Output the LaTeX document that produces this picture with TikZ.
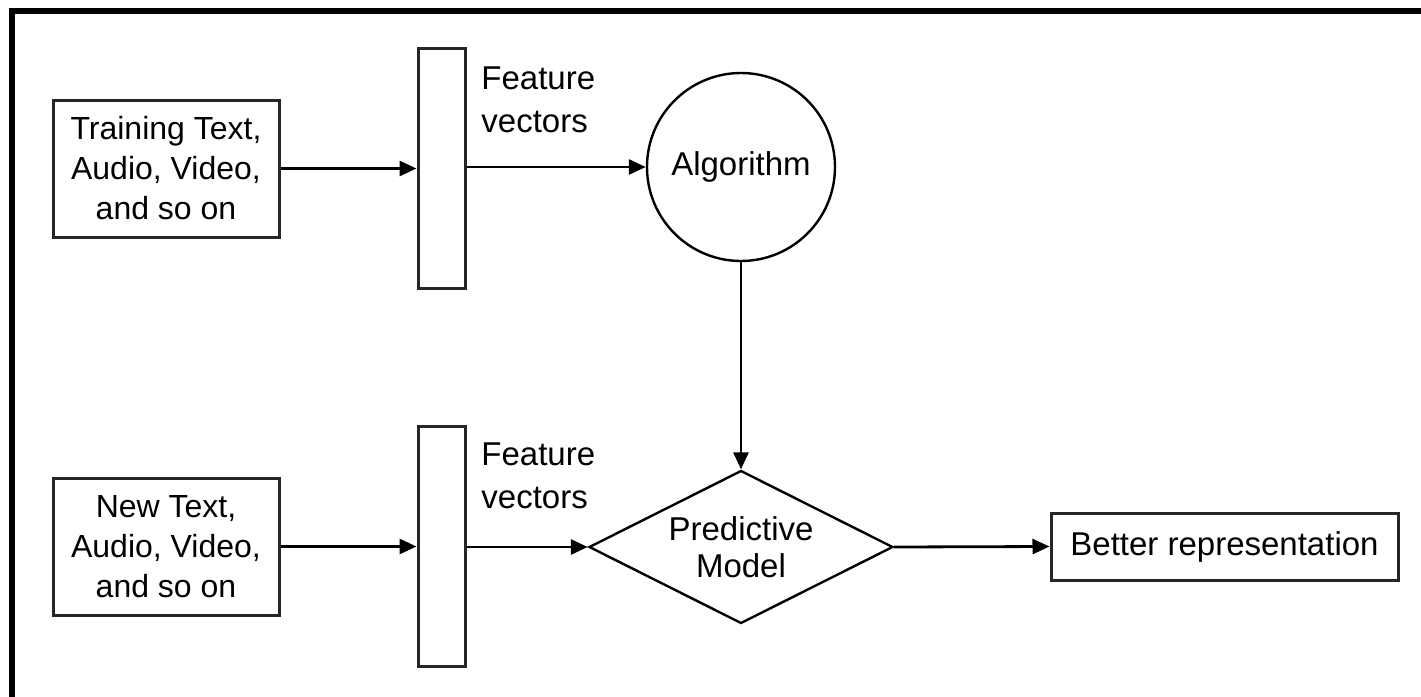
\documentclass[tikz,border=0pt]{standalone}
\usepackage{fontspec}
\setmainfont{Liberation Sans}
\usetikzlibrary{shapes.geometric,arrows.meta}

\tikzset{
  lbl/.style={font=\fontsize{16.5pt}{21.5pt}\selectfont, inner sep=0pt},
  srcbox/.style={draw=black!85, line width=1.5pt, rectangle, minimum width=113pt,
    minimum height=68.5pt, align=center, inner sep=0pt,
    font=\fontsize{16pt}{20pt}\selectfont},
  fvcol/.style={draw=black!85, line width=1.5pt, rectangle, minimum width=23.5pt,
    minimum height=120pt, inner sep=0pt},
  algo/.style={draw, line width=1.2pt, circle, minimum size=94pt, inner sep=0pt,
    font=\fontsize{16.5pt}{18.5pt}\selectfont},
  model/.style={draw, line width=1.2pt, diamond, aspect=2, minimum width=152pt,
    minimum height=76.5pt, inner sep=0pt, align=center,
    font=\fontsize{16.5pt}{18.5pt}\selectfont},
  outbox/.style={draw=black!85, line width=1.5pt, rectangle, minimum width=173.5pt,
    minimum height=33.5pt, inner sep=0pt, font=\fontsize{16.5pt}{18.5pt}\selectfont},
  flow/.style={line width=1.4pt, -{Triangle[length=8.5pt,width=7.5pt]}},
}

\begin{document}
\begin{tikzpicture}[x=0.5pt,y=-0.5pt]
  \useasboundingbox (0,0) rectangle (1421,697);

  % outer frame (top and left edges)
  \draw[line width=3pt] (12,697) -- (12,11) -- (1421,11);

  % training path
  \node[srcbox] (train) at (166,168.5) {Training Text,\\Audio, Video,\\and so on};
  \node[fvcol] (fv1) at (441.5,168) {};
  \node[lbl, anchor=west, align=left] (fvtxt1) at (481,99.5) {Feature\\vectors};
  \node[algo] (alg) at (741,167) {Algorithm};

  % prediction path
  \node[srcbox] (new) at (166,546.5) {New Text,\\Audio, Video,\\and so on};
  \node[fvcol] (fv2) at (441.5,546) {};
  \node[lbl, anchor=west, align=left] (fvtxt2) at (481,476) {Feature\\vectors};
  \node[model] (pm) at (741,547) {Predictive\\Model};
  \node[outbox] (out) at (1224.5,546.5) {Better representation};

  % connectors
  \draw[flow] (train.east) -- (train.east -| fv1.west);
  \draw[flow] (fv1.east |- alg.west) -- (alg.west);
  \draw[flow] (alg.south) -- (pm.north);
  \draw[flow] (new.east) -- (new.east -| fv2.west);
  \draw[flow] (fv2.east |- pm.west) -- (pm.west);
  \draw[flow] (pm.east) -- (out.west);
\end{tikzpicture}
\end{document}
